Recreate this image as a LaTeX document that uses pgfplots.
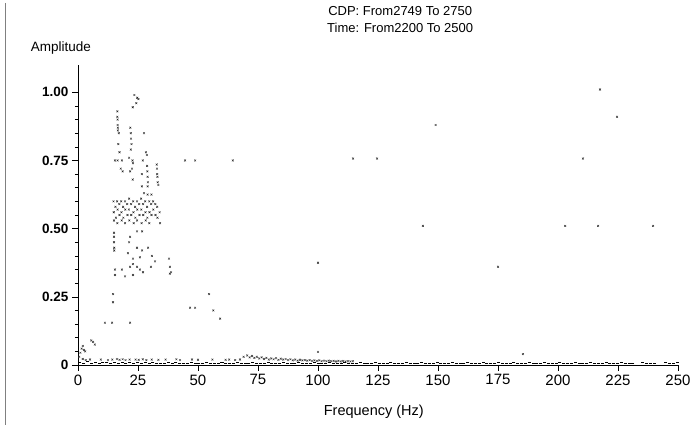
\documentclass[border=0pt]{standalone}
\usepackage{fontspec}
\setmainfont{Liberation Sans}
\usepackage{pgfplots}
\pgfplotsset{compat=1.18}
\begin{document}
\begin{tikzpicture}
\begin{axis}[
  scale only axis, width=600pt, height=300pt,
  xmin=0, xmax=250, ymin=0, ymax=1.10,
  axis lines=left, axis line style={-, line width=0.8pt},
  xtick={0,25,...,250},
  ytick={0,0.25,0.5,0.75,1},
  yticklabels={0,0.25,0.50,0.75,1.00},
  minor y tick num=4,
  tick style={black, line width=0.6pt},
  tick align=outside, major tick length=6pt, minor tick length=3pt,
  /pgf/number format/assume math mode=true,
  xticklabel style={font=\fontsize{15}{15}\selectfont},
  yticklabel style={font=\bfseries\fontsize{13.5}{13.5}\selectfont},
  title={CDP: From2749 To 2750\\Time: From2200 To 2500},
  title style={align=center, font=\fontsize{13}{17}\selectfont, at={(0.537,1)}, anchor=south, yshift=23pt},
  xlabel={Frequency (Hz)},
  xlabel style={font=\fontsize{14.5}{14.5}\selectfont, at={(0.493,0)}, anchor=north, yshift=-36pt},
  clip=false,
]
% baseline noise
\addplot[only marks, mark=-, mark size=1.5pt, black, line width=0.5pt] coordinates {
(0.8,0.010)(2.4,0.006)(4,0.012)(5.6,0.007)(7.2,0.010)(8.8,0.005)(10.4,0.009)(12,0.011)(13.6,0.006)(15.2,0.009)(16.8,0.007)(18.4,0.011)(20,0.006)(21.6,0.009)(23.2,0.007)(24.8,0.010)(26.4,0.005)(28,0.009)(29.6,0.007)(31.2,0.011)(32.8,0.006)(34.4,0.008)(36,0.005)(37.6,0.009)(39.2,0.007)(40.8,0.010)(42.4,0.006)(44,0.008)(45.6,0.007)(47.2,0.009)(48.8,0.005)(50.4,0.008)(52,0.007)(53.6,0.010)(55.2,0.006)(56.8,0.008)(58.4,0.007)(60,0.009)(61.6,0.005)(63.2,0.008)(64.8,0.007)(66.4,0.010)(68,0.006)(69.6,0.008)(71.2,0.007)(72.8,0.009)(74.4,0.005)(76,0.008)(77.6,0.007)(79.2,0.010)(80.8,0.006)(82.4,0.008)(84,0.007)(85.6,0.009)(87.2,0.005)(88.8,0.008)(90.4,0.007)(92,0.010)(93.6,0.006)(95.2,0.008)(96.8,0.007)(98.4,0.009)(100,0.005)(101.6,0.008)(103.2,0.007)(104.8,0.010)(106.4,0.006)(108,0.008)(109.6,0.007)(111.2,0.009)(112.8,0.005)(114.4,0.008)(116,0.007)(117.6,0.010)(119.2,0.006)(120.8,0.008)(122.4,0.007)(124,0.009)(125.6,0.005)(127.2,0.008)(128.8,0.007)(130.4,0.010)(132,0.006)(133.6,0.008)(135.2,0.007)(136.8,0.009)(138.4,0.005)(140,0.008)(141.6,0.007)(143.2,0.010)(144.8,0.006)(146.4,0.008)(148,0.007)(149.6,0.009)(151.2,0.005)(152.8,0.008)(154.4,0.007)(156,0.010)(157.6,0.006)(159.2,0.008)(160.8,0.007)(162.4,0.009)(164,0.005)(165.6,0.008)(167.2,0.007)(168.8,0.010)(170.4,0.006)(172,0.008)(173.6,0.007)(175.2,0.009)(176.8,0.005)(178.4,0.008)(180,0.007)(181.6,0.010)(183.2,0.006)(184.8,0.008)(186.4,0.007)(188,0.009)(189.6,0.005)(191.2,0.008)(192.8,0.007)(194.4,0.010)(196,0.006)(197.6,0.008)(199.2,0.007)(200.8,0.009)(202.4,0.005)(204,0.008)(205.6,0.007)(207.2,0.010)(208.8,0.006)(210.4,0.008)(212,0.007)(213.6,0.009)(215.2,0.005)(216.8,0.008)(218.4,0.007)(220,0.010)(221.6,0.006)(223.2,0.008)(224.8,0.007)(226.4,0.009)(228,0.005)(229.6,0.008)(231.2,0.007)(235.2,0.009)(236.8,0.006)(238.4,0.008)(240,0.007)(244.8,0.009)(246.4,0.006)(248,0.008)(249.6,0.011)
};
% low-level band
\addplot[only marks, mark=x, mark size=1.3pt, black!80, line width=0.45pt] coordinates {
(2,0.022)(3.2,0.018)(5,0.02)(9.5,0.02)(12.5,0.018)(14.3,0.02)(16.2,0.022)(17.3,0.019)(18.6,0.021)(19.8,0.018)(21.5,0.02)(24,0.02)(25.3,0.019)(27,0.021)(28.5,0.018)(30.7,0.02)(33.5,0.019)(36.5,0.02)(41,0.021)(42.5,0.018)(47.5,0.02)(50,0.019)(56,0.02)(61.5,0.019)(63,0.02)(65.5,0.018)(67.5,0.02)
(69,0.03)(70.5,0.035)(71.5,0.028)(72.5,0.033)(73.5,0.026)(74.5,0.03)(75.5,0.024)(76.5,0.028)(77.5,0.022)(78.5,0.026)(79.5,0.02)(80.5,0.024)(81.5,0.021)(82.5,0.025)(83.5,0.019)(84.5,0.023)(85.5,0.02)(86.5,0.022)(87.5,0.018)(88.5,0.021)(89.5,0.017)(90.5,0.02)(91.5,0.016)(92.5,0.019)(93.5,0.017)(94.5,0.018)(95.5,0.016)(96.5,0.018)(97.5,0.015)(98.5,0.017)(99.5,0.015)(100.5,0.017)(101.5,0.014)(102.5,0.016)(103.5,0.014)(104.5,0.016)(105.5,0.014)(106.5,0.015)(107.5,0.013)(108.5,0.015)(109.5,0.013)(110.5,0.015)(111.5,0.013)(112.5,0.014)(113.5,0.013)(114.5,0.014)
(0.5,0.03)(1,0.045)(1.5,0.06)(2,0.07)(2.5,0.055)(3,0.05)(5.5,0.09)(6.3,0.085)(7,0.075)
};
% main cluster and isolated peaks
\addplot[only marks, mark=x, mark size=1.3pt, black!85, line width=0.45pt] coordinates {
(23.5,0.99)(24.7,0.98)(25.2,0.975)(22.8,0.945)(24.3,0.96)
(16.4,0.93)(16.4,0.91)(16.5,0.90)(16.5,0.88)(16.6,0.87)(16.6,0.86)(17,0.85)(16.8,0.81)(17.3,0.78)(16.5,0.75)(18.3,0.75)(17.8,0.72)(18.6,0.71)(15.4,0.75)
(21.8,0.87)(22,0.85)(22.1,0.83)(22.3,0.81)(22,0.79)(22.7,0.75)(22.9,0.74)(22.5,0.72)(21.7,0.71)(22.8,0.68)(21.3,0.76)
(27.5,0.85)(28.7,0.77)(27,0.75)(26.6,0.70)(28.3,0.78)
(28.8,0.73)(28.9,0.71)(29,0.69)(29.1,0.67)
(32.8,0.735)(32.9,0.72)(33,0.70)(33.1,0.69)(33.2,0.67)(33.5,0.66)
(26.6,0.655)(29,0.655)(29,0.625)(30.6,0.625)(27.5,0.63)
(14.8,0.60)(14.9,0.56)(15.0,0.53)(15.6,0.58)(15.8,0.54)(16.3,0.60)(16.5,0.57)(16.4,0.52)(17.2,0.59)(17.3,0.55)(18,0.60)(18.1,0.56)(18.2,0.53)(18.8,0.58)(18.9,0.54)(19.6,0.60)(19.7,0.57)(19.6,0.52)(20.5,0.59)(20.6,0.55)(21.3,0.61)(21.2,0.57)(21.4,0.53)(22.1,0.59)(22.2,0.55)(23,0.60)(23.1,0.56)(23.2,0.52)(23.8,0.58)(23.9,0.54)(24.6,0.60)(24.7,0.57)(24.6,0.53)(25.5,0.59)(25.6,0.55)(26.3,0.61)(26.4,0.57)(26.5,0.52)(27.1,0.59)(27.2,0.55)(28,0.60)(28.1,0.56)(28.2,0.53)(28.8,0.58)(28.9,0.54)(29.7,0.60)(29.8,0.56)(29.7,0.52)(30.5,0.59)(30.6,0.55)(31.3,0.60)(31.4,0.57)(32.2,0.59)(32.3,0.55)(33,0.58)(33.1,0.54)(34,0.56)(34.2,0.52)
(24.6,0.49)(26.7,0.49)(15,0.485)(15,0.47)(15,0.45)(15.1,0.43)(15.1,0.42)(21.7,0.47)(21.3,0.45)(24.6,0.43)(26.7,0.42)(29.2,0.43)(20.8,0.41)(30.8,0.40)(22.9,0.39)(25.8,0.395)(32.1,0.38)(37.9,0.39)(22.9,0.37)(21.7,0.36)(24.6,0.36)(25.8,0.35)(15.4,0.35)(18.3,0.35)(38.3,0.36)(38.8,0.34)(30.4,0.36)(22.9,0.33)(27.1,0.34)(19.6,0.325)(15.4,0.33)(38.3,0.335)(14.6,0.26)(14.6,0.23)
(11.2,0.155)(14.2,0.155)(21.7,0.155)
(44.6,0.75)(48.8,0.75)(64.5,0.75)
(46.7,0.21)(48.8,0.21)(54.6,0.26)(56.4,0.2)(59.2,0.17)
(100,0.048)(100,0.375)(185.4,0.04)
(114.6,0.757)(124.6,0.757)(149,0.88)(143.7,0.51)(175,0.36)(203,0.51)(210.4,0.757)(216.7,0.51)(217.5,1.01)(224.6,0.91)(239.6,0.51)
};
\node[font=\fontsize{13.5}{14}\selectfont, anchor=center] at (rel axis cs:0,1) [xshift=-17pt, yshift=17pt] {Amplitude};
\end{axis}
\draw[gray, line width=0.6pt] (-73pt,362pt) -- (-73pt,-60pt);
\pgfresetboundingbox
\path[use as bounding box] (-78pt,-74pt) rectangle (616pt,365pt);
\end{tikzpicture}
\end{document}
